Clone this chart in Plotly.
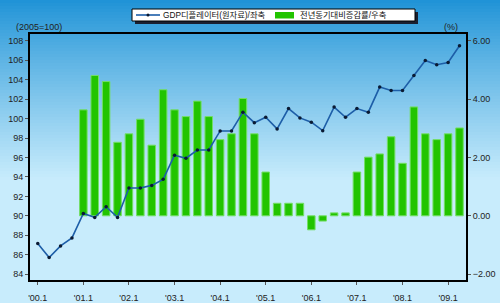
import plotly.graph_objects as go

# ---- data ----
quarters = [f"'{y:02d}.{q}" for y in range(0, 10) for q in range(1, 5)][:38]
deflator = [87.15, 85.71, 86.9, 87.73, 90.25, 89.84, 90.93, 89.84,
            92.86, 92.86, 93.13, 93.75, 96.23, 95.92, 96.77, 96.77,
            98.73, 98.73, 100.66, 99.58, 100.14, 98.94, 101.03, 100.07,
            99.63, 98.76, 101.18, 100.14, 101.03, 100.66, 103.24, 102.89,
            102.89, 104.43, 105.98, 105.54, 105.77, 107.49]
growth = [None, None, None, None, 3.63, 4.81, 4.6, 2.52,
          2.81, 3.31, 2.42, 4.32, 3.63, 3.40, 3.93, 3.40,
          2.61, 2.81, 4.02, 2.81, 1.50, 0.43, 0.43, 0.43,
          -0.48, -0.18, 0.10, 0.10, 1.50, 2.01, 2.12, 2.71,
          1.80, 3.73, 2.81, 2.61, 2.81, 3.01]
year_ticks = [q for q in quarters if q.endswith(".1")]
left_ticks = list(range(84, 110, 2))
right_ticks = [-2, 0, 2, 4, 6]
series_names = ["GDP디플레이터(원자료)/좌축", "전년동기대비증감률/우축"]

W, H = 500, 303
ML, MR, MT, MB = 30, 34, 34, 23
PW, PH = W - ML - MR, H - MT - MB

def px(x):
    return (x - ML) / PW

def py(y):
    return (H - MB - y) / PH

FONT = "Arial, 'Liberation Sans', 'Noto Sans CJK KR', sans-serif"
BAR_COLOR = "#22c400"
LINE_COLOR = "#1d5ea8"

fig = go.Figure()
fig.add_trace(go.Bar(
    x=quarters, y=growth, yaxis="y", name=series_names[1],
    marker=dict(color=BAR_COLOR, line=dict(color="#74de66", width=1)),
    width=0.66, showlegend=False,
))
fig.add_trace(go.Scatter(
    x=quarters, y=deflator, yaxis="y2", name=series_names[0],
    mode="lines+markers",
    line=dict(color=LINE_COLOR, width=1.6),
    marker=dict(color="#0a1a33", size=3.5), showlegend=False,
))

# background gradient
shapes = []
top = (30, 146, 214)
bot = (200, 236, 252)
n = 60
gend = 180.0
for i in range(n):
    y0 = gend * i / n
    y1 = gend * (i + 1) / n + 0.5
    t = ((i + 0.5) / n) ** 0.9
    c = tuple(int(round(top[k] + (bot[k] - top[k]) * t)) for k in range(3))
    shapes.append(dict(type="rect", xref="paper", yref="paper", layer="below",
                       x0=px(0), x1=px(W), y0=py(y1), y1=py(y0),
                       fillcolor=f"rgb{c}", line=dict(width=0)))
shapes.append(dict(type="rect", xref="paper", yref="paper", layer="below",
                   x0=px(0), x1=px(W), y0=py(H), y1=py(gend),
                   fillcolor=f"rgb{bot}", line=dict(width=0)))

# custom legend box (shadow, box, samples)
LX0, LX1, LY0, LY1 = 132, 415, 9, 21
shapes.append(dict(type="rect", xref="paper", yref="paper", layer="above",
                   x0=px(LX0 + 3), x1=px(LX1 + 3), y0=py(LY1 + 3), y1=py(LY0 + 3),
                   fillcolor="#1a2030", line=dict(width=0)))
shapes.append(dict(type="rect", xref="paper", yref="paper", layer="above",
                   x0=px(LX0), x1=px(LX1), y0=py(LY1), y1=py(LY0),
                   fillcolor="white", line=dict(color="black", width=1)))
ly = (LY0 + LY1) / 2
shapes.append(dict(type="line", xref="paper", yref="paper", layer="above",
                   x0=px(136), x1=px(160), y0=py(ly), y1=py(ly),
                   line=dict(color=LINE_COLOR, width=1.6)))
shapes.append(dict(type="circle", xref="paper", yref="paper", layer="above",
                   x0=px(146.5), x1=px(149.5), y0=py(ly + 1.5), y1=py(ly - 1.5),
                   fillcolor="#0a1a33", line=dict(width=0)))
shapes.append(dict(type="rect", xref="paper", yref="paper", layer="above",
                   x0=px(275), x1=px(294), y0=py(18.5), y1=py(12),
                   fillcolor=BAR_COLOR, line=dict(width=0)))

annotations = [
    dict(text="(2005=100)", xref="paper", yref="paper", x=px(39), y=py(27),
         xanchor="center", yanchor="middle", showarrow=False,
         font=dict(size=9, color="#222")),
    dict(text="(%)", xref="paper", yref="paper", x=px(451), y=py(27),
         xanchor="center", yanchor="middle", showarrow=False,
         font=dict(size=9, color="#222")),
    dict(text=series_names[0], xref="paper", yref="paper", x=px(161), y=py(ly),
         xanchor="left", yanchor="middle", showarrow=False,
         font=dict(size=8.3, color="#111")),
    dict(text=series_names[1], xref="paper", yref="paper", x=px(298), y=py(ly),
         xanchor="left", yanchor="middle", showarrow=False,
         font=dict(size=8.3, color="#111")),
]

fig.update_layout(
    width=W, height=H,
    margin=dict(l=ML, r=MR, t=MT, b=MB, pad=0, autoexpand=False),
    paper_bgcolor="#c8ecfc",
    plot_bgcolor="rgba(0,0,0,0)",
    font=dict(family=FONT, size=9, color="#222222"),
    shapes=shapes,
    annotations=annotations,
    showlegend=False,
    barmode="overlay",
    xaxis=dict(type="category", range=[-0.68, 37.57], tickmode="array",
               tickvals=year_ticks, ticktext=year_ticks, ticks="outside",
               ticklen=3, tickcolor="#555", showline=True, linecolor="black",
               linewidth=2, mirror=True, showgrid=False, zeroline=False,
               automargin=False,
               ticklabelstandoff=5, tickfont=dict(size=9, color="#222")),
    yaxis=dict(range=[-2.2, 6.23], side="right", tickvals=right_ticks,
               tickformat=".2f", ticks="outside", ticklen=3, tickcolor="#555",
               showline=True, linecolor="black", linewidth=2, automargin=False,
               showgrid=False, zeroline=False, tickfont=dict(size=9, color="#222")),
    yaxis2=dict(range=[83.4, 108.7], side="left", overlaying="y",
                tickvals=left_ticks, ticks="outside", ticklen=3, tickcolor="#555",
                showline=True, linecolor="black", linewidth=2, automargin=False,
                showgrid=False, zeroline=False, tickfont=dict(size=9, color="#222")),
)

fig.write_html("out.html")
